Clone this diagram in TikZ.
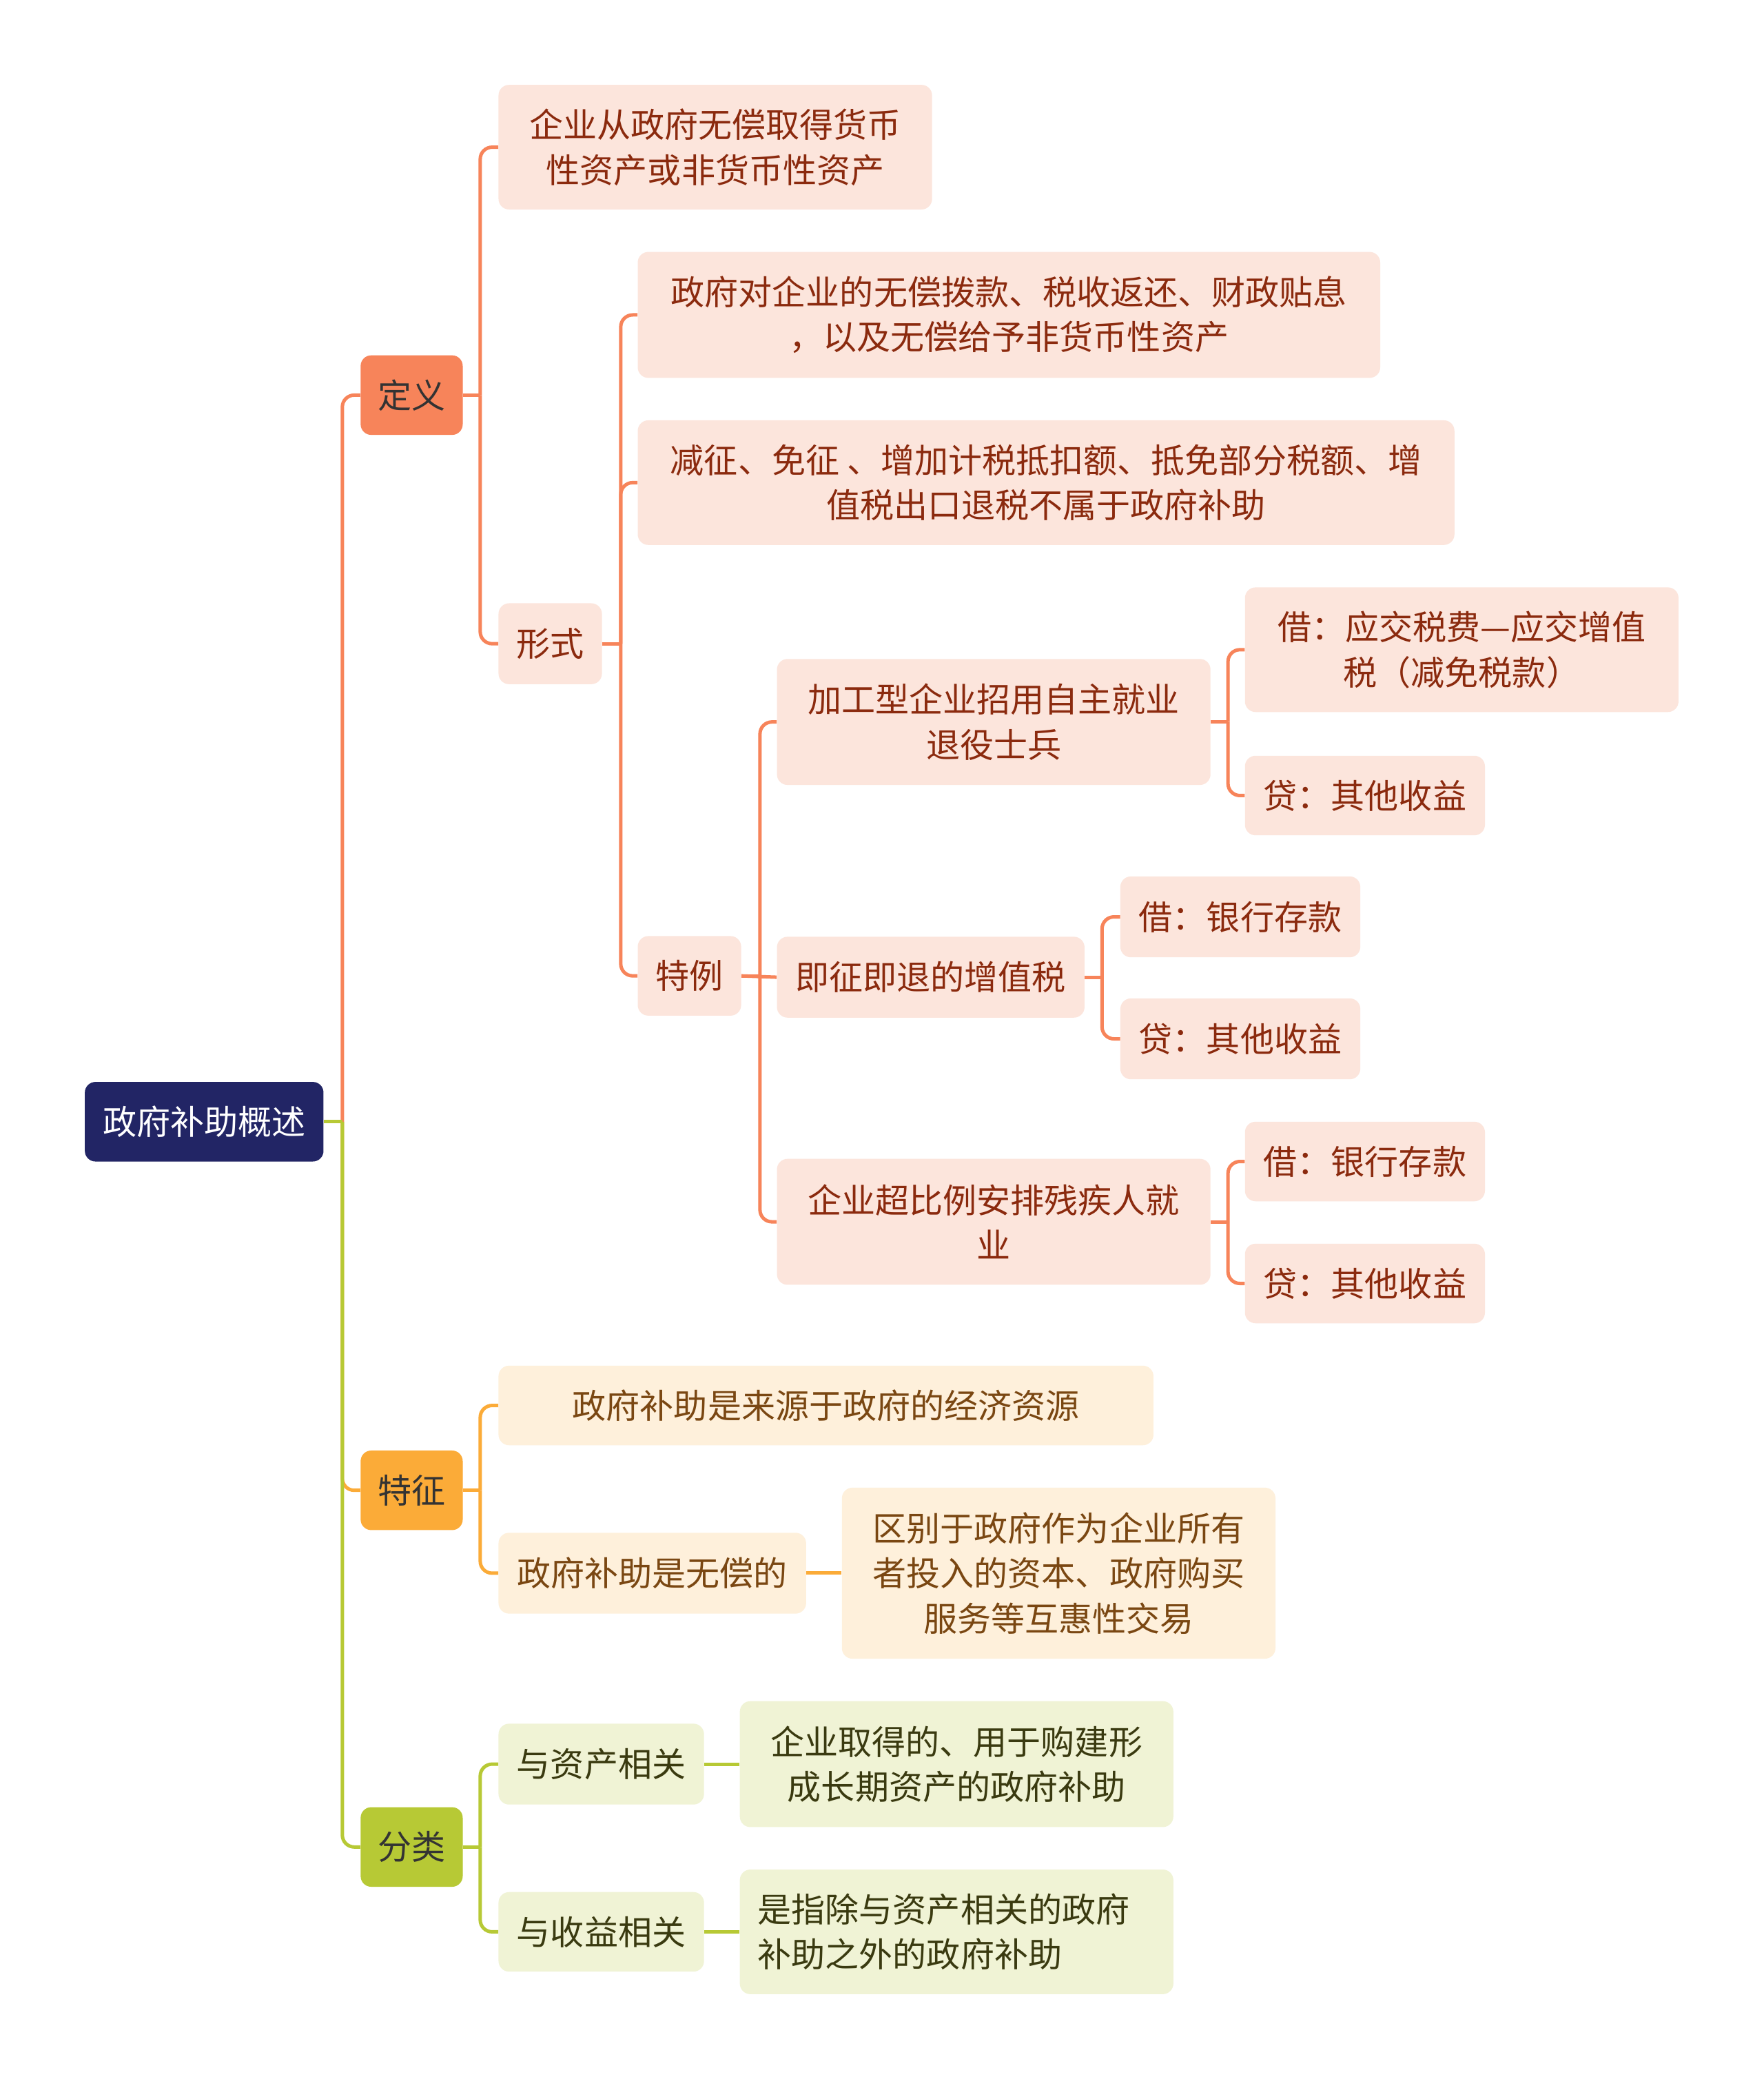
\documentclass[tikz,border=0pt]{standalone}
\usepackage{fontspec}
\setmainfont{Noto Sans CJK SC}
\usetikzlibrary{calc}
\definecolor{rootc}{HTML}{222565}
\definecolor{orgf}{HTML}{F7845A}
\definecolor{yelf}{HTML}{FBAB38}
\definecolor{grnf}{HTML}{B7C935}
\definecolor{peachf}{HTML}{FCE5DC}
\definecolor{peacht}{HTML}{8B2A0E}
\definecolor{creamf}{HTML}{FEF0DB}
\definecolor{creamt}{HTML}{7A4712}
\definecolor{lgrnf}{HTML}{F0F3D5}
\definecolor{lgrnt}{HTML}{3A3A10}
\definecolor{darkt}{HTML}{333333}
\newcommand\mmconn[4]{%
  \draw[#1] (#2.east) -- ++(#4,0);
  \draw[#1, rounded corners=9pt] ($(#2.east)+(#4,0)$) |- (#3.west);}
\begin{document}
\begin{tikzpicture}[x=1pt,y=-1pt,
  base/.style={rounded corners=8pt, inner sep=0pt, align=center,
    font=\fontsize{25.5pt}{34pt}\selectfont},
  rootbox/.style={base, fill=rootc, text=white},
  onode/.style={base, fill=orgf, text=darkt},
  ynode/.style={base, fill=yelf, text=darkt},
  gnode/.style={base, fill=grnf, text=darkt},
  pnode/.style={base, fill=peachf, text=peacht},
  cnode/.style={base, fill=creamf, text=creamt},
  lgnode/.style={base, fill=lgrnf, text=lgrnt},
  lo/.style={draw=orgf, line width=2.6pt},
  ly/.style={draw=yelf, line width=2.6pt},
  lg/.style={draw=grnf, line width=2.6pt}]
\useasboundingbox[fill=white] (0,0) rectangle (1330,1568);

% root and level 1
\node[rootbox, minimum width=180pt, minimum height=60pt] (root) at (154,846) {政府补助概述};
\node[onode, minimum width=77pt, minimum height=60pt] (dy) at (310.5,298) {定义};
\node[ynode, minimum width=77pt, minimum height=60pt] (tz) at (310.5,1124) {特征};
\node[gnode, minimum width=77pt, minimum height=60pt] (fl) at (310.5,1393) {分类};

% 定义 subtree
\node[pnode, minimum width=327pt, minimum height=94pt] (a1) at (539.5,111) {企业从政府无偿取得货币\\性资产或非货币性资产};
\node[pnode, minimum width=78pt, minimum height=61pt] (xs) at (415,485.5) {形式};
\node[pnode, minimum width=560pt, minimum height=95pt] (b1) at (761,237.5) {政府对企业的无偿拨款、税收返还、财政贴息\\，以及无偿给予非货币性资产};
\node[pnode, minimum width=616pt, minimum height=94pt] (b2) at (789,364) {减征、免征 、增加计税抵扣额、抵免部分税额、增\\值税出口退税不属于政府补助};
\node[pnode, minimum width=78pt, minimum height=60pt] (tl) at (520,736) {特例};
\node[pnode, minimum width=327pt, minimum height=95pt] (c1) at (749.5,544.5) {加工型企业招用自主就业\\退役士兵};
\node[pnode, minimum width=232pt, minimum height=61pt] (c2) at (702,737) {即征即退的增值税};
\node[pnode, minimum width=327pt, minimum height=95pt] (c3) at (749.5,921.5) {企业超比例安排残疾人就\\业};
\node[pnode, minimum width=327pt, minimum height=94pt] (d1) at (1102.5,490) {借：应交税费—应交增值\\税（减免税款）};
\node[pnode, minimum width=181pt, minimum height=60pt] (d2) at (1029.5,600) {贷：其他收益};
\node[pnode, minimum width=181pt, minimum height=61pt] (d3) at (935.5,691.5) {借：银行存款};
\node[pnode, minimum width=181pt, minimum height=61pt] (d4) at (935.5,783.5) {贷：其他收益};
\node[pnode, minimum width=181pt, minimum height=60pt] (d5) at (1029.5,876) {借：银行存款};
\node[pnode, minimum width=181pt, minimum height=60pt] (d6) at (1029.5,968) {贷：其他收益};

% 特征 subtree
\node[cnode, minimum width=494pt, minimum height=60pt] (e1) at (623,1060) {政府补助是来源于政府的经济资源};
\node[cnode, minimum width=232pt, minimum height=61pt] (e2) at (492,1186.5) {政府补助是无偿的};
\node[cnode, minimum width=327pt, minimum height=129pt] (e3) at (798.5,1186.5) {区别于政府作为企业所有\\者投入的资本、政府购买\\服务等互惠性交易};

% 分类 subtree
\node[lgnode, minimum width=155pt, minimum height=61pt] (f1) at (453.5,1330.5) {与资产相关};
\node[lgnode, minimum width=155pt, minimum height=60pt] (f2) at (453.5,1457) {与收益相关};
\node[lgnode, minimum width=327pt, minimum height=95pt] (f3) at (721.5,1330.5) {企业取得的、用于购建形\\成长期资产的政府补助};
\node[lgnode, minimum width=327pt, minimum height=94pt, text width=300pt, align=left] (f4) at (721.5,1457) {是指除与资产相关的政府\\补助之外的政府补助};

% connectors
\mmconn{lo}{root}{dy}{14}
\mmconn{ly}{root}{tz}{14}
\mmconn{lg}{root}{fl}{14}

\mmconn{lo}{dy}{a1}{13}
\mmconn{lo}{dy}{xs}{13}
\mmconn{lo}{xs}{b1}{14}
\mmconn{lo}{xs}{b2}{14}
\mmconn{lo}{xs}{tl}{14}
\mmconn{lo}{tl}{c1}{14}
\draw[lo] (tl.east) -- (c2.west);
\mmconn{lo}{tl}{c3}{14}
\mmconn{lo}{c1}{d1}{13}
\mmconn{lo}{c1}{d2}{13}
\mmconn{lo}{c2}{d3}{13}
\mmconn{lo}{c2}{d4}{13}
\mmconn{lo}{c3}{d5}{13}
\mmconn{lo}{c3}{d6}{13}

\mmconn{ly}{tz}{e1}{13}
\mmconn{ly}{tz}{e2}{13}
\draw[ly] (e2.east) -- (e3.west);

\mmconn{lg}{fl}{f1}{13}
\mmconn{lg}{fl}{f2}{13}
\draw[lg] (f1.east) -- (f3.west);
\draw[lg] (f2.east) -- (f4.west);
\end{tikzpicture}
\end{document}
